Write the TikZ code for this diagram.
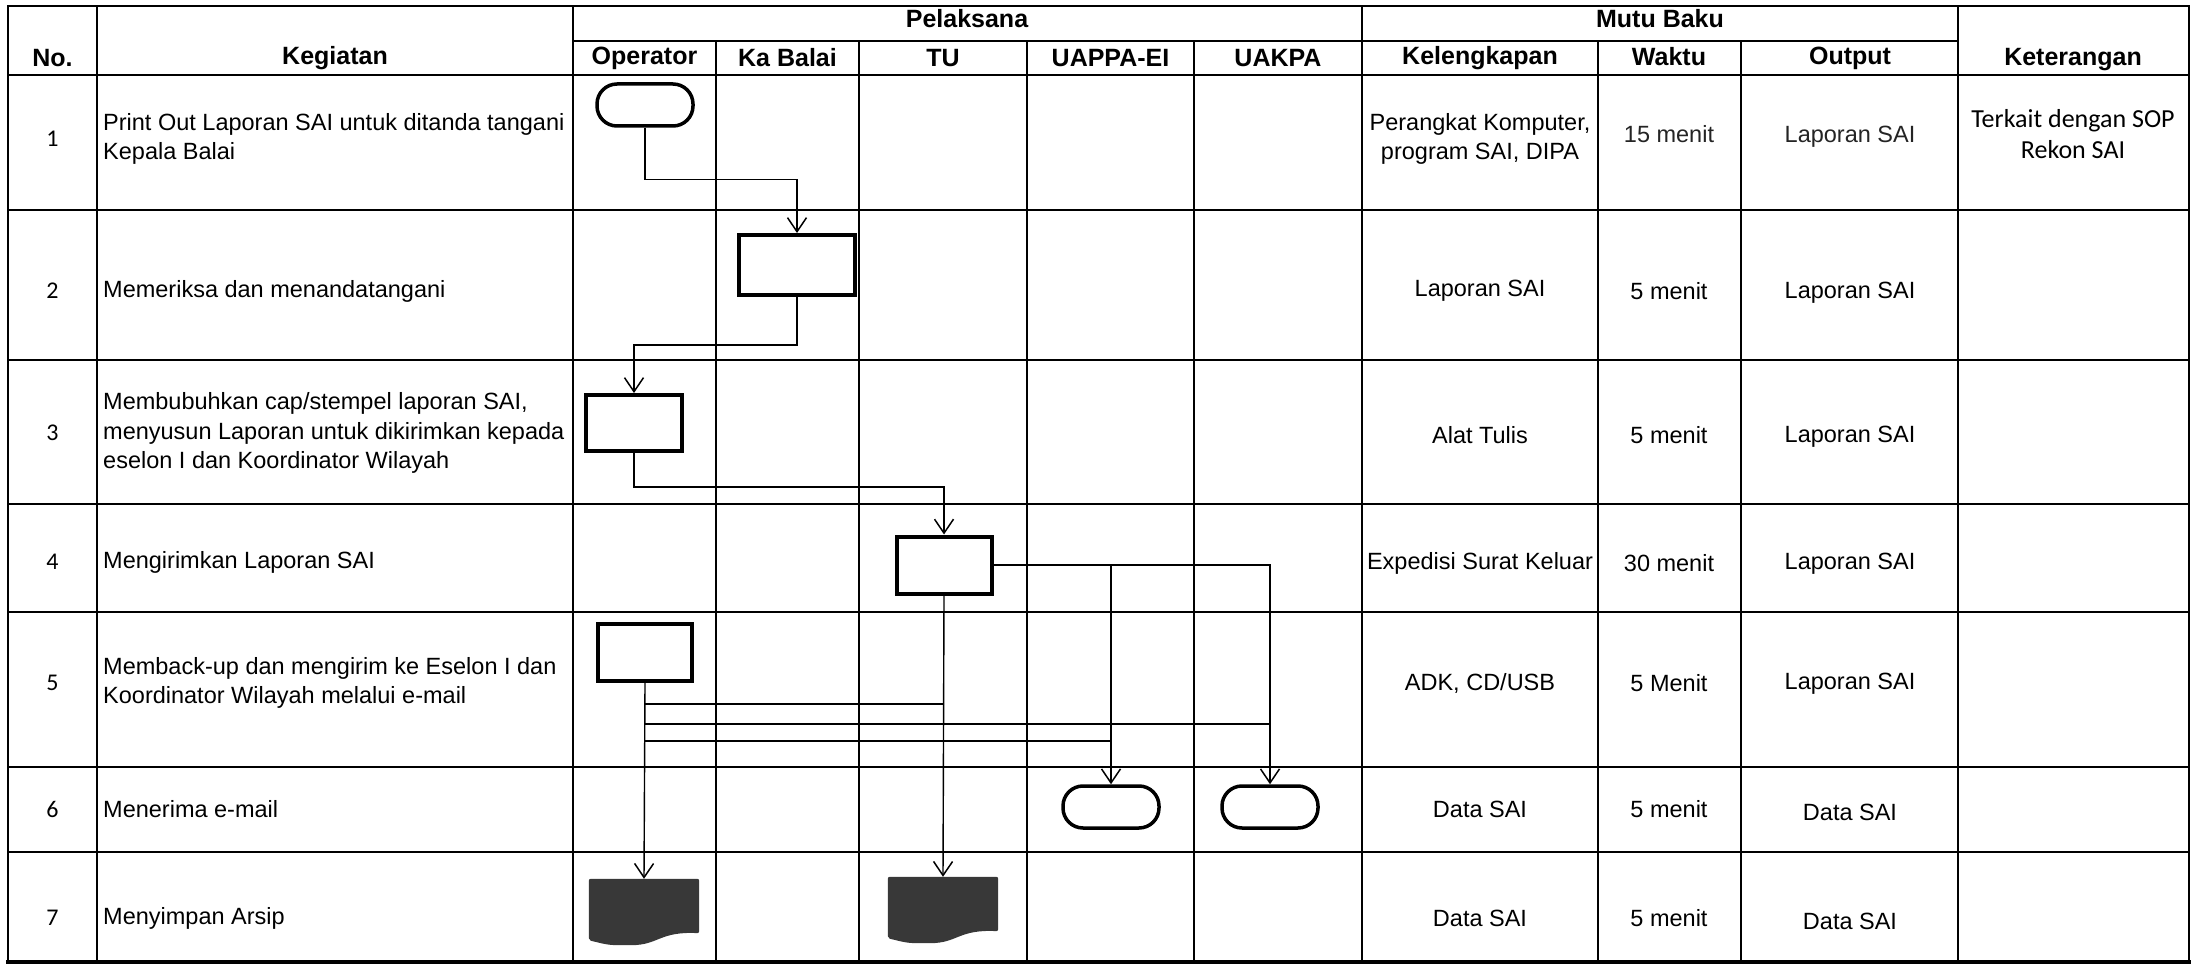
\documentclass[tikz,border=0pt]{standalone}
\usepackage{fontspec}
\setmainfont{Liberation Sans}
\newfontfamily\carlito{Carlito}
\usetikzlibrary{arrows.meta,calc}
\begin{document}
\begin{tikzpicture}[x=1pt,y=-1pt,
  grid/.style={line width=1.7pt,line cap=rect},
  thickgrid/.style={line width=3.5pt,line cap=rect},
  flow/.style={line width=1.4pt},
  conn/.style={flow,-{Straight Barb[length=14pt,width=19pt,line width=1.5pt]}},
  procbox/.style={draw,line width=4pt,inner sep=0pt},
  termbox/.style={draw,line width=3.5pt,inner sep=0pt,minimum width=96pt,minimum height=42pt,rounded corners=20pt},
  docbox/.style={inner sep=0pt,minimum width=110pt,minimum height=66pt},
  docfill/.style={fill=black!78},
  body/.style={font=\fontsize{23.5}{29.5}\selectfont,inner sep=0pt,align=center},
  leftbody/.style={body,anchor=west,align=left},
  lightbody/.style={body,text=black!86},
  head/.style={font=\bfseries\fontsize{25}{29}\selectfont,inner sep=0pt},
  num/.style={font=\carlito\fontsize{24}{28}\selectfont,inner sep=0pt},
  note/.style={font=\carlito\fontsize{26}{31}\selectfont,inner sep=0pt,align=center}
]
\useasboundingbox (0,0) rectangle (2195,965);
\fill[white] (0,0) rectangle (2195,965);

% ---------- grid ----------
\draw[grid] (8,6) -- (2189,6);
\draw[grid] (573,41) -- (1958,41);
\foreach \y in {75,210,360,504,612,767,852} \draw[grid] (8,\y) -- (2189,\y);
\draw[thickgrid] (8,962) -- (2189,962);
\foreach \x in {8,97,573,1362,1958,2189} \draw[grid] (\x,6) -- (\x,962);
\foreach \x in {716,859,1027,1194,1598,1741} \draw[grid] (\x,41) -- (\x,962);

% ---------- header ----------
\node[head] (hno) at (52.5,58) {No.};
\node[head] (hkeg) at (335,58) {Kegiatan};
\node[head] (hpel) at (967,19) {Pelaksana};
\node[head] (hmutu) at (1660,19) {Mutu Baku};
\node[head] (hop) at (644.5,58) {Operator};
\node[head] (hkb) at (787.5,58) {Ka Balai};
\node[head] (htu) at (943,58) {TU};
\node[head] (hua) at (1110.5,58) {UAPPA-EI};
\node[head] (huk) at (1278,58) {UAKPA};
\node[head] (hkel) at (1480,58) {Kelengkapan};
\node[head] (hw) at (1669,57) {Waktu};
\node[head] (hout) at (1850,58) {Output};
\node[head] (hket) at (2073,60) {Keterangan};

% ---------- numbers ----------
\node[num] (n1) at (52.5,139) {1};
\node[num] (n2) at (52.5,291) {2};
\node[num] (n3) at (52.5,433) {3};
\node[num] (n4) at (52.5,562) {4};
\node[num] (n5) at (52.5,683) {5};
\node[num] (n6) at (52.5,809) {6};
\node[num] (n7) at (52.5,918) {7};

% ---------- kegiatan ----------
\node[leftbody] (k1) at (103,139) {Print Out Laporan SAI untuk ditanda tangani\\Kepala Balai};
\node[leftbody] (k2) at (103,291) {Memeriksa dan menandatangani};
\node[leftbody] (k3) at (103,433) {Membubuhkan cap/stempel laporan SAI,\\menyusun Laporan untuk dikirimkan kepada\\eselon I dan Koordinator Wilayah};
\node[leftbody] (k4) at (103,562) {Mengirimkan Laporan SAI};
\node[leftbody] (k5) at (103,683) {Memback-up dan mengirim ke Eselon I dan\\Koordinator Wilayah melalui e-mail};
\node[leftbody] (k6) at (103,809) {Menerima e-mail};
\node[leftbody] (k7) at (103,918) {Menyimpan Arsip};

% ---------- mutu baku ----------
\node[body] (kel1) at (1480,139) {Perangkat Komputer,\\program SAI, DIPA};
\node[lightbody] (w1) at (1669,134) {15 menit};
\node[lightbody] (o1) at (1850,137) {Laporan SAI};
\node[body] (kel2) at (1480,291) {Laporan SAI};
\node[body] (w2) at (1669,291) {5 menit};
\node[body] (o2) at (1850,293) {Laporan SAI};
\node[body] (kel3) at (1480,435) {Alat Tulis};
\node[body] (w3) at (1669,435) {5 menit};
\node[body] (o3) at (1850,437) {Laporan SAI};
\node[body] (kel4) at (1480,563) {Expedisi Surat Keluar};
\node[body] (w4) at (1669,563) {30 menit};
\node[body] (o4) at (1850,564) {Laporan SAI};
\node[body] (kel5) at (1480,683) {ADK, CD/USB};
\node[body] (w5) at (1669,683) {5 Menit};
\node[body] (o5) at (1850,684) {Laporan SAI};
\node[body] (kel6) at (1480,809) {Data SAI};
\node[body] (w6) at (1669,809) {5 menit};
\node[body] (o6) at (1850,812) {Data SAI};
\node[body] (kel7) at (1480,918) {Data SAI};
\node[body] (w7) at (1669,918) {5 menit};
\node[body] (o7) at (1850,921) {Data SAI};
\node[note] (ket1) at (2073,134) {Terkait dengan SOP\\Rekon SAI};

% ---------- flow shapes ----------
\node[termbox] (t1) at (645,105) {};
\node[procbox,minimum width=116pt,minimum height=60pt] (b2) at (797,265) {};
\node[procbox,minimum width=96pt,minimum height=56pt] (b3) at (634,423) {};
\node[procbox,minimum width=95pt,minimum height=57pt] (b4) at (944,565) {};
\node[procbox,minimum width=94pt,minimum height=57pt] (b5) at (645,652) {};
\node[termbox] (t6a) at (1111,807) {};
\node[termbox] (t6b) at (1270,807) {};
\node[docbox] (d7a) at (644,912) {};
\node[docbox] (d7b) at (943,910) {};

\foreach \d in {d7a,d7b}{
  \fill[docfill,rounded corners=2pt] (\d.north west) -- (\d.north east) -- ($(\d.south east)+(0,-12)$)
    .. controls ($(\d.south east)+(-40,-14)$) and ($(\d.south west)+(70,0)$) .. ($(\d.south west)+(40,0)$)
    .. controls ($(\d.south west)+(20,0)$) .. ($(\d.south west)+(0,-5)$) -- cycle;
}

% ---------- connectors ----------
\draw[conn] (t1.south) -- ++(0,52) -| (b2.north);
\draw[conn] (b2.south) -- ++(0,48) -| (b3.north);
\draw[conn] (b3.south) -- ++(0,34) -| (b4.north);
\draw[conn] (b4.east) -| (t6b.north);
\draw[conn] (b4.east -| t6a.north) -- (t6a.north);
\draw[conn] (b4.south) -- (d7b.north);
\draw[conn] (b5.south) -- (d7a.north);
\coordinate (h1) at (0,704);
\coordinate (h2) at (0,724);
\coordinate (h3) at (0,741);
\draw[flow] (b5.south |- h1) -- (b4.south |- h1);
\draw[flow] (b5.south |- h2) -- (t6b.north |- h2);
\draw[flow] (b5.south |- h3) -- (t6a.north |- h3);
\end{tikzpicture}
\end{document}
